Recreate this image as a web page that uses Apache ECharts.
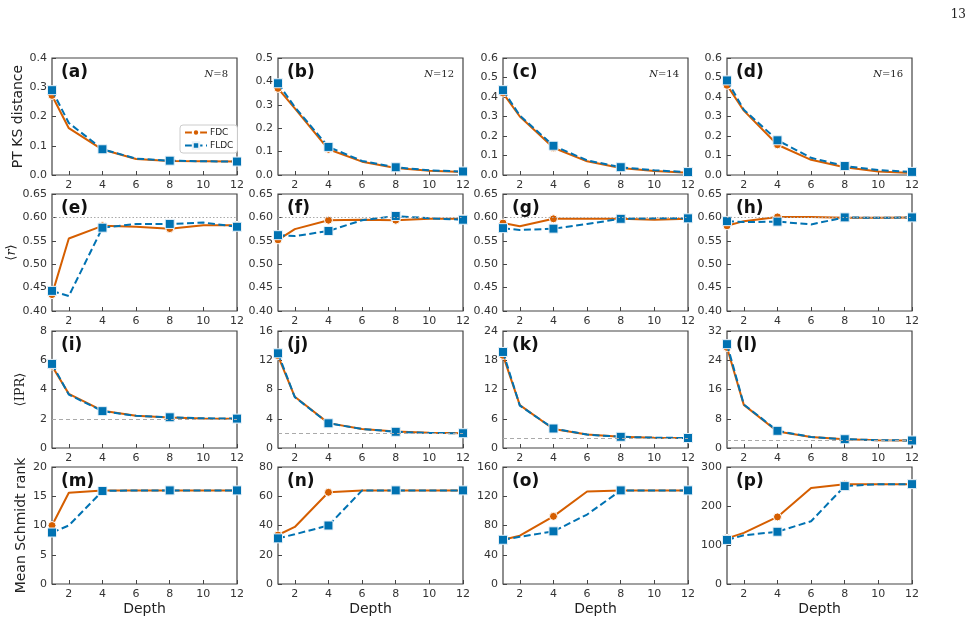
<!DOCTYPE html>
<html>
<head>
<meta charset="utf-8">
<script src="https://cdn.jsdelivr.net/npm/echarts@6/dist/echarts.min.js"></script>
<style>
  html, body { margin: 0; padding: 0; background: #fff; }
  #chart { width: 977px; height: 623px; }
</style>
</head>
<body>
<div id="chart"></div>
<script>
// depths and where markers are drawn
const depths = [1, 2, 4, 6, 8, 10, 12];
const markerDepths = [1, 4, 8, 12];
const xTicks = [2, 4, 6, 8, 10, 12];

// row 1: PT KS distance
const fdcA = [0.272, 0.160, 0.087, 0.055, 0.048, 0.047, 0.046];
const fldcA = [0.290, 0.178, 0.088, 0.056, 0.049, 0.047, 0.046];
const fdcB = [0.370, 0.285, 0.110, 0.057, 0.030, 0.018, 0.013];
const fldcB = [0.392, 0.290, 0.120, 0.060, 0.033, 0.020, 0.015];
const fdcC = [0.420, 0.300, 0.140, 0.070, 0.036, 0.020, 0.012];
const fldcC = [0.435, 0.305, 0.150, 0.075, 0.040, 0.024, 0.015];
const fdcD = [0.460, 0.330, 0.155, 0.078, 0.040, 0.018, 0.010];
const fldcD = [0.485, 0.335, 0.178, 0.088, 0.046, 0.025, 0.016];

// row 2: <r>
const fdcE = [0.435, 0.555, 0.582, 0.580, 0.576, 0.583, 0.583];
const fldcE = [0.443, 0.432, 0.578, 0.586, 0.586, 0.589, 0.580];
const fdcF = [0.552, 0.575, 0.594, 0.595, 0.594, 0.597, 0.597];
const fldcF = [0.562, 0.560, 0.571, 0.594, 0.603, 0.598, 0.595];
const fdcG = [0.588, 0.581, 0.597, 0.597, 0.597, 0.595, 0.597];
const fldcG = [0.577, 0.573, 0.576, 0.586, 0.597, 0.598, 0.598];
const fdcH = [0.582, 0.592, 0.601, 0.601, 0.599, 0.599, 0.600];
const fldcH = [0.592, 0.590, 0.591, 0.585, 0.600, 0.599, 0.600];

// row 3: <IPR>
const fdcI = [5.6, 3.7, 2.55, 2.2, 2.08, 2.02, 2.0];
const fldcI = [5.75, 3.65, 2.52, 2.2, 2.1, 2.03, 2.01];
const fdcJ = [12.6, 7.0, 3.4, 2.6, 2.25, 2.07, 2.02];
const fldcJ = [12.95, 6.95, 3.38, 2.6, 2.22, 2.05, 2.02];
const fdcK = [19.0, 8.8, 3.9, 2.75, 2.3, 2.1, 2.05];
const fldcK = [19.7, 8.7, 4.0, 2.75, 2.3, 2.12, 2.05];
const fdcL = [27.5, 11.8, 4.5, 3.0, 2.4, 2.15, 2.05];
const fldcL = [28.4, 11.9, 4.7, 3.0, 2.4, 2.15, 2.05];

// row 4: mean Schmidt rank
const fdcM = [10.0, 15.6, 16, 16, 16, 16, 16];
const fldcM = [8.8, 10.0, 15.9, 16, 16, 16, 16];
const fdcN = [33.5, 39, 62.7, 64, 64, 64, 64];
const fldcN = [31.2, 34, 40, 64, 64, 64, 64];
const fdcO = [60.5, 66, 92.5, 126.5, 128, 128, 128];
const fldcO = [60.5, 64.5, 72, 95, 128, 128, 128];
const fdcP = [117, 131, 172, 246, 256, 256, 256];
const fldcP = [113, 125, 134, 161, 251, 256, 256];

const fdcAll = [fdcA, fdcB, fdcC, fdcD, fdcE, fdcF, fdcG, fdcH, fdcI, fdcJ, fdcK, fdcL, fdcM, fdcN, fdcO, fdcP];
const fldcAll = [fldcA, fldcB, fldcC, fldcD, fldcE, fldcF, fldcG, fldcH, fldcI, fldcJ, fldcK, fldcL, fldcM, fldcN, fldcO, fldcP];

const yMins = [0, 0, 0, 0, 0.4, 0.4, 0.4, 0.4, 0, 0, 0, 0, 0, 0, 0, 0];
const yMaxs = [0.4, 0.5, 0.6, 0.6, 0.65, 0.65, 0.65, 0.65, 8, 16, 24, 32, 20, 80, 160, 300];
const yIntervals = [0.1, 0.1, 0.1, 0.1, 0.05, 0.05, 0.05, 0.05, 2, 4, 6, 8, 5, 20, 40, 100];
const rowDecimals = [1, 2, 0, 0];

const panelLabels = ['(a)', '(b)', '(c)', '(d)', '(e)', '(f)', '(g)', '(h)', '(i)', '(j)', '(k)', '(l)', '(m)', '(n)', '(o)', '(p)'];
const sizeLabels = ['8', '12', '14', '16'];
const refR = 0.602;
const refIPR = 2;

const ORANGE = '#d55e00';
const BLUE = '#0072b2';
const colLefts = [52, 278, 503, 727];
const rowTops = [58, 194, 331, 467];
const gw = 185, gh = 117;

const rowNames = [
    'PT KS distance',
    '{s|⟨}{i|r}{s|⟩}',
    '{s|⟨IPR⟩}',
    'Mean Schmidt rank'
];
const rowNameGaps = [22, 34, 25, 24];

const grids = [], xAxes = [], yAxes = [], series = [], titles = [];

const toData = ys => depths.map((d, k) => {
    const item = { value: [d, ys[k]] };
    if (!markerDepths.includes(d)) item.symbol = 'none';
    return item;
});

for (let p = 0; p < 16; p++) {
    const r = Math.floor(p / 4), c = p % 4;
    grids.push({
        left: colLefts[c], top: rowTops[r], width: gw, height: gh,
        show: true, borderColor: '#444', borderWidth: 1.2, backgroundColor: 'transparent'
    });
    xAxes.push({
        gridIndex: p, type: 'value', min: 1, max: 12,
        name: r === 3 ? 'Depth' : '', nameLocation: 'middle', nameGap: 18,
        nameTextStyle: { fontFamily: 'DejaVu Sans', fontSize: 14, color: '#222' },
        axisLine: { show: false },
        splitLine: { show: false },
        axisTick: { inside: true, length: 4, lineStyle: { color: '#444' }, customValues: xTicks },
        axisLabel: { fontFamily: 'DejaVu Sans', fontSize: 11, color: '#333', margin: 5, customValues: xTicks }
    });
    const dec = rowDecimals[r];
    yAxes.push({
        gridIndex: p, type: 'value', min: yMins[p], max: yMaxs[p], interval: yIntervals[p],
        name: c === 0 ? rowNames[r] : '', nameLocation: 'middle',
        nameGap: rowNameGaps[r],
        nameTextStyle: {
            fontFamily: 'DejaVu Sans', fontSize: 14, color: '#222',
            rich: {
                s: { fontFamily: 'DejaVu Serif', fontSize: 13, color: '#222' },
                i: { fontFamily: 'DejaVu Serif', fontStyle: 'italic', fontSize: 13, color: '#222' }
            }
        },
        axisLine: { show: false },
        splitLine: { show: false },
        axisTick: { inside: true, length: 4, lineStyle: { color: '#444' } },
        axisLabel: {
            fontFamily: 'DejaVu Sans', fontSize: 11, color: '#333', margin: 5,
            formatter: v => v.toFixed(dec)
        }
    });

    const fdcSeries = {
        name: 'FDC', type: 'line', xAxisIndex: p, yAxisIndex: p,
        data: toData(fdcAll[p]),
        symbol: 'circle', symbolSize: 8,
        lineStyle: { color: ORANGE, width: 2 },
        itemStyle: { color: ORANGE, borderColor: '#fff', borderWidth: 1 },
        z: 3
    };
    if (r === 1 || r === 2) {
        fdcSeries.markLine = {
            silent: true, symbol: 'none', label: { show: false },
            lineStyle: { color: '#aaa', width: 1, type: r === 1 ? [1.5, 2] : [4, 3] },
            data: [{ yAxis: r === 1 ? refR : refIPR }]
        };
    }
    series.push(fdcSeries);
    series.push({
        name: 'FLDC', type: 'line', xAxisIndex: p, yAxisIndex: p,
        data: toData(fldcAll[p]),
        symbol: 'rect', symbolSize: 9,
        lineStyle: { color: BLUE, width: 2, type: [7, 3.5] },
        itemStyle: { color: BLUE, borderColor: '#e8f1f8', borderWidth: 1 },
        z: 4
    });

    titles.push({
        text: panelLabels[p], left: colLefts[c] + 4, top: rowTops[r] + 1,
        textStyle: { fontFamily: 'DejaVu Sans', fontWeight: 'bold', fontSize: 17, color: '#111' }
    });
    if (r === 0) {
        titles.push({
            text: '{i|N}{n|=' + sizeLabels[c] + '}', right: 977 - (colLefts[c] + gw) + 4, top: rowTops[r] + 6,
            textStyle: {
                fontWeight: 'normal',
                rich: {
                    i: { fontFamily: 'DejaVu Serif', fontStyle: 'italic', fontWeight: 'normal', fontSize: 10, color: '#222' },
                    n: { fontFamily: 'DejaVu Serif', fontWeight: 'normal', fontSize: 10, color: '#222' }
                }
            }
        });
    }
}

titles.push({
    text: '13', right: 6, top: 4,
    textStyle: { fontFamily: 'DejaVu Serif', fontWeight: 'normal', fontSize: 12, color: '#222' }
});

const chart = echarts.init(document.getElementById('chart'), null, { renderer: 'canvas' });
chart.setOption({
    animation: false,
    backgroundColor: '#fff',
    title: titles,
    legend: {
        data: ['FDC', 'FLDC'],
        orient: 'vertical', left: 180, top: 125,
        itemWidth: 22, itemHeight: 8, itemGap: 4,
        padding: [3, 4, 3, 4],
        borderColor: '#ccc', borderWidth: 1, borderRadius: 3,
        backgroundColor: '#fff',
        textStyle: { fontFamily: 'DejaVu Sans', fontSize: 9, color: '#222', padding: [0, 0, 0, -2] }
    },
    grid: grids,
    xAxis: xAxes,
    yAxis: yAxes,
    series: series
});
</script>
</body>
</html>
